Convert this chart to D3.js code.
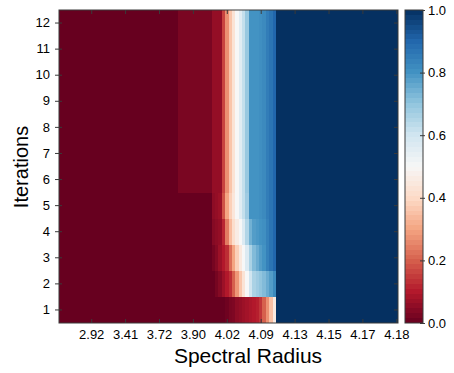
<!DOCTYPE html>
<html><head><meta charset="utf-8">
<script src="https://cdn.jsdelivr.net/npm/d3@7"></script>
<style>
body{margin:0;background:#fff}
svg{display:block}
text{font-family:"Liberation Sans",Arial,Helvetica,sans-serif;fill:#000}
</style>
</head><body>
<svg id="chart" width="454" height="373"></svg>
<script>
// ---- data ----
const xTickLabels = ["2.92","3.41","3.72","3.90","4.02","4.09","4.13","4.15","4.17","4.18"];
const xTickColumns = [9,19,29,39,49,59,69,79,89,99];
const iterations = [1,2,3,4,5,6,7,8,9,10,11,12];
const colorbarTicks = [0.0,0.2,0.4,0.6,0.8,1.0];

// fraction per column (100 columns) for each iteration row
const row01 = [0,0,0,0,0,0,0,0,0,0, 0,0,0,0,0,0,0,0,0,0, 0,0,0,0,0,0,0,0,0,0, 0,0,0,0,0,0,0,0,0,0,
  0,0,0,0,0,0,0,0,0,0.01, 0.025,0.03,0.05,0.06,0.07,0.08,0.09,0.1,0.11,0.14, 0.2,0.27,0.35,0.45,1,1,1,1,1,1,
  1,1,1,1,1,1,1,1,1,1, 1,1,1,1,1,1,1,1,1,1, 1,1,1,1,1,1,1,1,1,1];
const row02 = [0,0,0,0,0,0,0,0,0,0, 0,0,0,0,0,0,0,0,0,0, 0,0,0,0,0,0,0,0,0,0, 0,0,0,0,0,0,0,0,0,0,
  0,0,0,0,0,0,0.02,0.04,0.07,0.1, 0.13,0.2,0.28,0.36,0.43,0.5,0.6,0.66,0.68,0.7, 0.72,0.75,0.78,0.82,1,1,1,1,1,1,
  1,1,1,1,1,1,1,1,1,1, 1,1,1,1,1,1,1,1,1,1, 1,1,1,1,1,1,1,1,1,1];
const row03 = [0,0,0,0,0,0,0,0,0,0, 0,0,0,0,0,0,0,0,0,0, 0,0,0,0,0,0,0,0,0,0, 0,0,0,0,0,0,0,0,0,0,
  0,0,0,0,0,0.02,0.04,0.07,0.1,0.13, 0.22,0.3,0.38,0.45,0.5,0.57,0.66,0.72,0.75,0.78, 0.8,0.84,0.87,0.9,1,1,1,1,1,1,
  1,1,1,1,1,1,1,1,1,1, 1,1,1,1,1,1,1,1,1,1, 1,1,1,1,1,1,1,1,1,1];
const row04 = [0,0,0,0,0,0,0,0,0,0, 0,0,0,0,0,0,0,0,0,0, 0,0,0,0,0,0,0,0,0,0, 0,0,0,0,0,0,0,0,0,0,
  0,0,0,0,0,0.04,0.05,0.06,0.12,0.24, 0.34,0.41,0.46,0.5,0.57,0.65,0.74,0.78,0.79,0.8, 0.81,0.84,0.87,0.9,1,1,1,1,1,1,
  1,1,1,1,1,1,1,1,1,1, 1,1,1,1,1,1,1,1,1,1, 1,1,1,1,1,1,1,1,1,1];
const row05 = [0,0,0,0,0,0,0,0,0,0, 0,0,0,0,0,0,0,0,0,0, 0,0,0,0,0,0,0,0,0,0, 0,0,0,0,0,0,0,0,0,0,
  0,0,0,0,0,0.05,0.06,0.07,0.18,0.3, 0.38,0.44,0.5,0.56,0.62,0.68,0.8,0.8,0.8,0.81, 0.82,0.85,0.87,0.9,1,1,1,1,1,1,
  1,1,1,1,1,1,1,1,1,1, 1,1,1,1,1,1,1,1,1,1, 1,1,1,1,1,1,1,1,1,1];
const row06 = [0,0,0,0,0,0,0,0,0,0, 0,0,0,0,0,0,0,0,0,0, 0,0,0,0,0,0,0,0,0,0, 0,0,0,0,0,0.025,0.025,0.025,0.025,0.025,
  0.025,0.025,0.025,0.025,0.025,0.06,0.06,0.06,0.16,0.27, 0.36,0.43,0.5,0.56,0.62,0.69,0.8,0.8,0.8,0.81, 0.82,0.85,0.87,0.9,1,1,1,1,1,1,
  1,1,1,1,1,1,1,1,1,1, 1,1,1,1,1,1,1,1,1,1, 1,1,1,1,1,1,1,1,1,1];
const row07 = row06.slice();
const row08 = row06.slice();
const row09 = row06.slice();
const row10 = row06.slice();
const row11 = row06.slice();
const row12 = row06.slice();
const rows = [row01,row02,row03,row04,row05,row06,row07,row08,row09,row10,row11,row12];

// ---- layout ----
const svg = d3.select("#chart");
const L = 59, R = 398, T = 10, B = 323;
const cbL = 405, cbR = 423;
const axisColor = "#3a3a3a";
const tickFont = 13;

// RdBu (matplotlib-style linear segmented)
const rdbu = ["#67001f","#b2182b","#d6604d","#f4a582","#fddbc7","#f7f7f7","#d1e5f0","#92c5de","#4393c3","#2166ac","#053061"];
const color = d3.scaleLinear().domain(d3.range(11).map(i => i/10)).range(rdbu).interpolate(d3.interpolateRgb).clamp(true);

const x = d3.scaleBand().domain(d3.range(100)).range([L, R]).padding(0);
const y = d3.scaleBand().domain(iterations.slice().reverse()).range([T, B]).padding(0);

// cells (pixel-snapped so neighbours meet without seams)
const cells = [];
rows.forEach((r, ri) => r.forEach((v, ci) => cells.push({it: iterations[ri], c: ci, v})));
const gx0 = d => Math.round(x(d.c));
const gx1 = d => Math.round(x(d.c) + x.bandwidth());
const gy0 = d => Math.round(y(d.it));
const gy1 = d => Math.round(y(d.it) + y.bandwidth());
svg.append("g").attr("shape-rendering", "crispEdges")
  .selectAll("rect").data(cells).join("rect")
  .attr("x", gx0)
  .attr("y", gy0)
  .attr("width", d => gx1(d) - gx0(d))
  .attr("height", d => gy1(d) - gy0(d))
  .attr("fill", d => color(d.v));

// frame
svg.append("rect").attr("x", L).attr("y", T).attr("width", R - L).attr("height", B - T)
  .attr("fill", "none").attr("stroke", axisColor).attr("stroke-width", 1);

// axes
const xTickPos = xTickColumns.map(c => x(c) + x.bandwidth()/2);
const xb = svg.append("g").attr("transform", `translate(0,${B})`)
  .call(d3.axisBottom(d3.scaleLinear().domain([L,R]).range([L,R]))
    .tickValues(xTickPos).tickSize(-4).tickPadding(7)
    .tickFormat((d, i) => xTickLabels[i]));
xb.select(".domain").remove();
xb.selectAll(".tick line").attr("stroke", axisColor);
xb.selectAll(".tick text").attr("font-size", tickFont).attr("font-family", '"Liberation Sans",Arial,sans-serif');

const xt = svg.append("g").attr("transform", `translate(0,${T})`)
  .call(d3.axisTop(d3.scaleLinear().domain([L,R]).range([L,R])).tickValues(xTickPos).tickSize(-4).tickFormat(""));
xt.select(".domain").remove();
xt.selectAll(".tick line").attr("stroke", axisColor);

const yl = svg.append("g").attr("transform", `translate(${L},0)`)
  .call(d3.axisLeft(y).tickSize(4).tickPadding(5));
yl.select(".domain").remove();
yl.selectAll(".tick line").attr("stroke", axisColor).attr("x2", -4).attr("x1", 3);
yl.selectAll(".tick text").attr("font-size", tickFont).attr("font-family", '"Liberation Sans",Arial,sans-serif');

const yr = svg.append("g").attr("transform", `translate(${R},0)`)
  .call(d3.axisRight(y).tickSize(-4).tickFormat(""));
yr.select(".domain").remove();
yr.selectAll(".tick line").attr("stroke", axisColor);

// axis titles
svg.append("text").attr("x", 248).attr("y", 363).attr("text-anchor", "middle")
  .attr("font-size", 21).text("Spectral Radius");
svg.append("text").attr("transform", "translate(28,167) rotate(-90)").attr("text-anchor", "middle")
  .attr("font-size", 20).text("Iterations");

// colorbar
const cbScale = d3.scaleLinear().domain([0, 1]).range([B, T]);
const nSteps = 64;
svg.append("g").attr("shape-rendering", "crispEdges")
  .selectAll("rect").data(d3.range(nSteps)).join("rect")
  .attr("x", cbL).attr("width", cbR - cbL)
  .attr("y", i => Math.round(cbScale((i + 1) / nSteps)))
  .attr("height", i => Math.round(cbScale(i / nSteps)) - Math.round(cbScale((i + 1) / nSteps)))
  .attr("fill", i => color((i + 0.5) / nSteps));
svg.append("rect").attr("x", cbL).attr("y", T).attr("width", cbR - cbL).attr("height", B - T)
  .attr("fill", "none").attr("stroke", axisColor).attr("stroke-width", 1);
const cb = svg.append("g").attr("transform", `translate(${cbR},0)`)
  .call(d3.axisRight(cbScale).tickValues(colorbarTicks).tickSize(2).tickPadding(3).tickFormat(d3.format(".1f")));
cb.select(".domain").remove();
cb.selectAll(".tick line").attr("stroke", axisColor).attr("x1", -3).attr("x2", 2);
cb.selectAll(".tick text").attr("font-size", tickFont).attr("font-family", '"Liberation Sans",Arial,sans-serif');
</script>
</body></html>
